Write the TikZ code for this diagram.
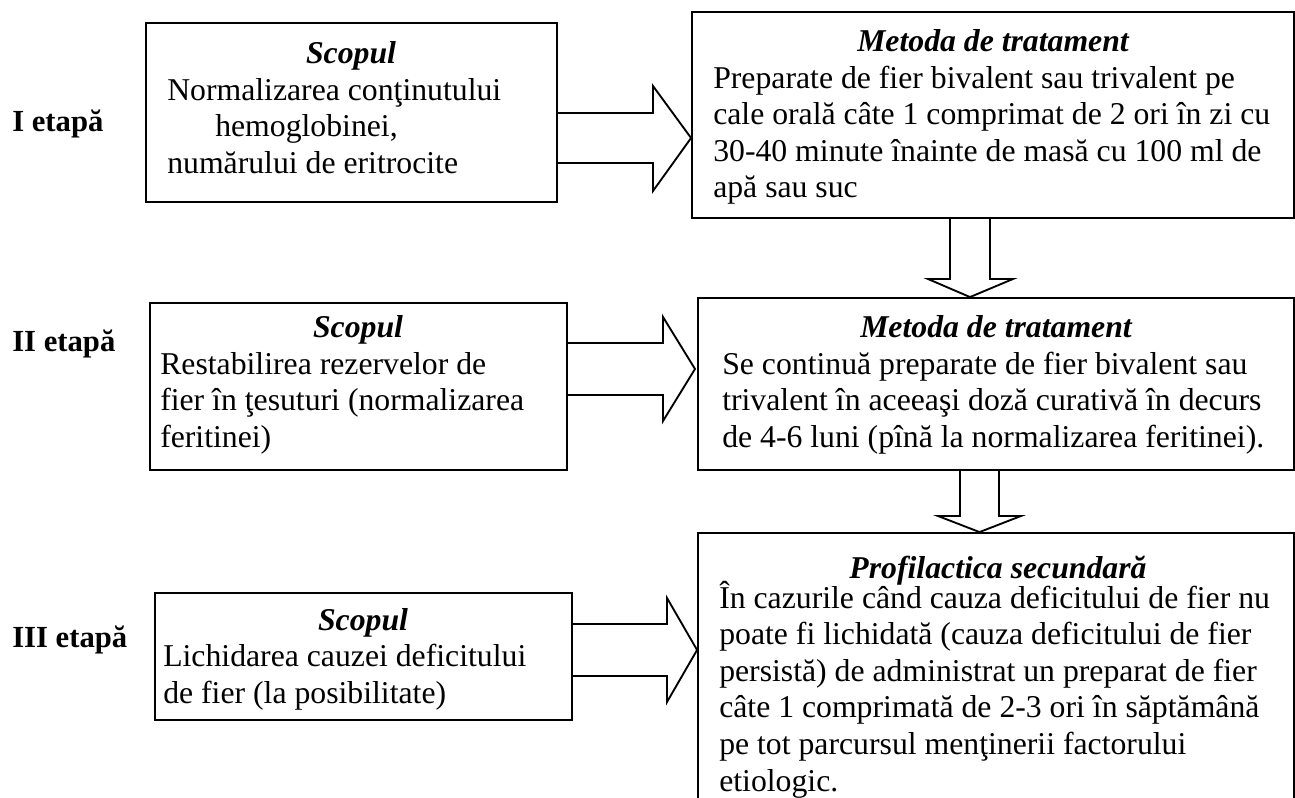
\documentclass[tikz,border=0pt]{standalone}
\usepackage{fontspec}
\setmainfont{Liberation Serif}
\usetikzlibrary{fit,calc}
\begin{document}
\begin{tikzpicture}[x=0.75pt,y=-0.75pt,
  box/.style={draw, line width=1.4pt, inner sep=0pt, rectangle},
  txt/.style={inner sep=0pt, align=left, anchor=base west, font=\fontsize{23.8}{27.4}\selectfont},
  ttl/.style={inner sep=0pt, anchor=base, font=\fontsize{23.8}{27.4}\selectfont\bfseries\itshape},
  lbl/.style={inner sep=0pt, anchor=base west, font=\fontsize{23}{26}\selectfont\bfseries},
  blk/.style={draw, line width=1.4pt, line join=miter}]
\clip (0,0) rectangle (1295,798);
% boxes
\node[box, fit={(146,23) (557,202)}] (b1) {};
\node[box, fit={(692,12) (1294,218)}] (b2) {};
\node[box, fit={(150,303) (567,470)}] (b3) {};
\node[box, fit={(698,298) (1294,470)}] (b4) {};
\node[box, fit={(155,593) (572,720)}] (b5) {};
\node[box, fit={(698,533) (1294,840)}] (b6) {};
% stage labels
\node[lbl] (l1) at (12,132) {I etapă};
\node[lbl] (l2) at (12,352) {II etapă};
\node[lbl] (l3) at (12,647) {III etapă};
% titles
\node[ttl] (s1) at (351,64) {Scopul};
\node[ttl] (m1) at (993,52) {Metoda de tratament};
\node[ttl] (s2) at (358,338) {Scopul};
\node[ttl] (m2) at (996,338) {Metoda de tratament};
\node[ttl] (s3) at (363,630) {Scopul};
\node[ttl] (p3) at (998,578) {Profilactica secundară};
% bodies (anchor = baseline of last line)
\node[txt] (x1) at (167,173.5) {Normalizarea conţinutului\\\hspace*{36pt}hemoglobinei,\\numărului de eritrocite};
\node[txt] (x2) at (713,198) {Preparate de fier bivalent sau trivalent pe\\cale orală câte 1 comprimat de 2 ori în zi cu\\30-40 minute înainte de masă cu 100 ml de\\apă sau suc};
\node[txt] (x3) at (160,447.5) {Restabilirea rezervelor de\\fier în ţesuturi (normalizarea\\feritinei)};
\node[txt] (x4) at (722,447.5) {Se continuă preparate de fier bivalent sau\\trivalent în aceeaşi doză curativă în decurs\\de 4-6 luni (pînă la normalizarea feritinei).};
\node[txt] (x5) at (163,703) {Lichidarea cauzei deficitului\\de fier (la posibilitate)};
\node[txt] (x6) at (719,791) {În cazurile când cauza deficitului de fier nu\\poate fi lichidată (cauza deficitului de fier\\persistă) de administrat un preparat de fier\\câte 1 comprimată de 2-3 ori în săptămână\\pe tot parcursul menţinerii factorului\\etiologic.};
% block arrows
\draw[blk] (b1.east |- 0,113) -- (653,113) -- (653,86) -- (b2.west |- 0,138) -- (653,191) -- (653,163) -- (b1.east |- 0,163);
\draw[blk] (b3.east |- 0,343) -- (663,343) -- (663,317) -- (695,369) -- (663,421) -- (663,395) -- (b3.east |- 0,395);
\draw[blk] (b5.east |- 0,624) -- (667,624) -- (667,598) -- (b6.west |- 0,650) -- (667,702) -- (667,676) -- (b5.east |- 0,676);
\draw[blk] (b2.south -| 950,0) -- (950,279) -- (928,279) -- (b4.north -| 970,0) -- (1013,279) -- (990,279) -- (b2.south -| 990,0);
\draw[blk] (b4.south -| 960,0) -- (960,516) -- (938,516) -- (b6.north -| 979.5,0) -- (1021,516) -- (999,516) -- (b4.south -| 999,0);
\end{tikzpicture}
\end{document}
